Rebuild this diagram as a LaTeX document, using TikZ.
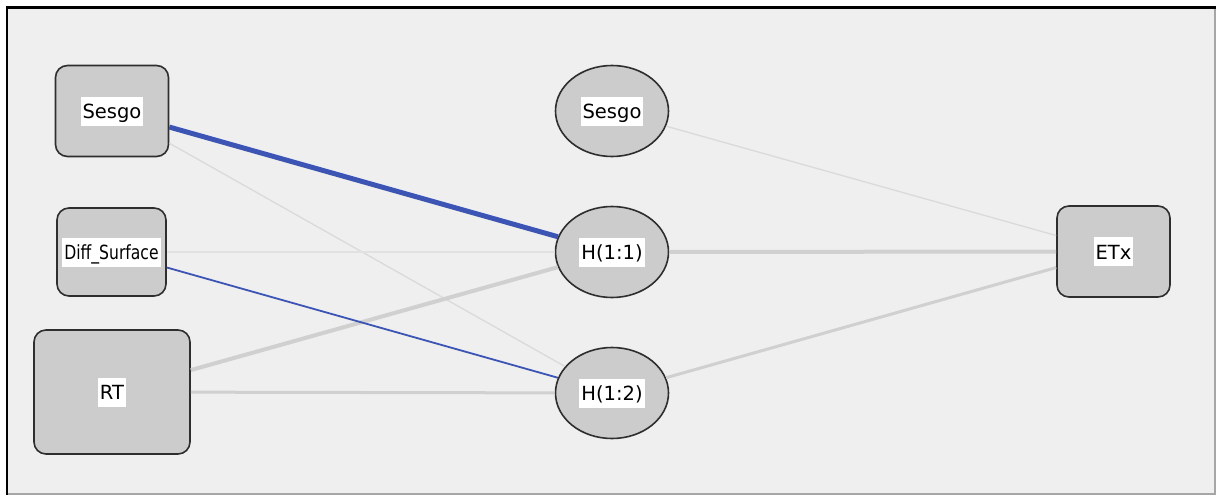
\documentclass[tikz,border=0pt]{standalone}
\usepackage{fontspec}
\usepackage{graphicx}
\setmainfont{DejaVu Sans}
\usetikzlibrary{shapes.geometric}
\definecolor{bg}{HTML}{EFEFEF}
\definecolor{nodefill}{HTML}{CCCCCC}
\definecolor{nodeline}{HTML}{2E2E2E}
\definecolor{blueedge}{HTML}{3C55B5}
\definecolor{grayedge}{HTML}{D0D0D0}
\definecolor{lightedge}{HTML}{DADADA}
\newcommand\lbl[1]{{\setlength{\fboxsep}{2pt}\colorbox{white}{\rule[-5pt]{0pt}{25pt}#1}}}
\tikzset{
  box/.style={draw=nodeline, line width=1.6pt, fill=nodefill, rounded corners=12pt, inner sep=0pt, font=\fontsize{19.5}{21}\selectfont},
  oval/.style={ellipse, draw=nodeline, line width=1.6pt, fill=nodefill, inner sep=0pt, minimum width=113pt, minimum height=91pt, font=\fontsize{19.5}{21}\selectfont},
  thinedge/.style={draw=lightedge, line width=1.3pt},
  gedge/.style={draw=grayedge, line width=#1},
  bedge/.style={draw=blueedge, line width=#1},
}
\begin{document}
\begin{tikzpicture}[x=1pt,y=-1pt]
\useasboundingbox (0,0) rectangle (1216,495);
\fill[white] (0,0) rectangle (1216,495);
\fill[bg] (8,9) rectangle (1215,494);
\draw[black, line width=2.6pt] (7,495) -- (7,7.7) -- (1216,7.7);
\draw[gray!70, line width=1.5pt] (1215,9) -- (1215,494) -- (8,494);

\coordinate (cs) at (112,111);
\coordinate (cd) at (111.5,252);
\coordinate (cr) at (112,392);
\coordinate (cse) at (612,111);
\coordinate (ch1) at (612,252);
\coordinate (ch2) at (612,393);
\coordinate (ce) at (1113.5,251.5);

\node[box, minimum width=113pt, minimum height=91pt] (s) at (cs) {\lbl{Sesgo}};
\node[box, minimum width=109pt, minimum height=88pt] (d) at (cd) {\lbl{\scalebox{0.8}[1]{Diff\_Surface}}};
\node[box, minimum width=156pt, minimum height=124pt] (r) at (cr) {\lbl{RT}};
\node[oval] (se) at (cse) {\lbl{Sesgo}};
\node[oval] (h1) at (ch1) {\lbl{H(1:1)}};
\node[oval] (h2) at (ch2) {\lbl{H(1:2)}};
\node[box, minimum width=113pt, minimum height=91pt] (e) at (ce) {\lbl{ETx}};

\draw[thinedge] (s) -- (h2);
\draw[thinedge, draw=lightedge!80] (d) -- (h1);
\draw[thinedge] (se) -- (e);
\draw[gedge=4pt] (r) -- (h1);
\draw[gedge=3pt] (r) -- (h2);
\draw[gedge=4pt] (h1) -- (e);
\draw[gedge=3pt] (h2) -- (e);
\draw[bedge=5pt] (s) -- (h1);
\draw[bedge=1.8pt] (d) -- (h2);
\end{tikzpicture}
\end{document}
